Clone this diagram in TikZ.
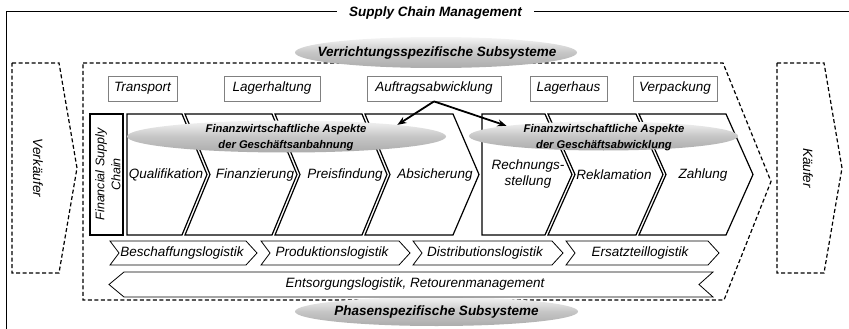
\documentclass[tikz,border=0pt]{standalone}
\usepackage{fontspec}
\setmainfont{Liberation Sans}
\usetikzlibrary{arrows.meta,shapes.geometric}

\begin{document}
\begin{tikzpicture}[x=1pt,y=-1pt,
	lbl/.style={font=\fontsize{13.5}{16.5}\selectfont\itshape},
	ttl/.style={font=\fontsize{13.5}{16}\selectfont\bfseries\itshape},
	asp/.style={font=\fontsize{11.2}{16}\selectfont\bfseries\itshape, align=center},
	taskbox/.style={draw=gray, line width=0.8pt, lbl, minimum height=25pt, inner sep=0pt},
	phase/.style={draw, line width=1.2pt, fill=white},
	logi/.style={draw, line width=0.8pt},
	party/.style={draw, line width=1.2pt, dash pattern=on 4pt off 2.5pt},
	bubble/.style={ellipse, inner sep=0pt, top color=gray!8, bottom color=gray!65, middle color=gray!45}]
	\useasboundingbox (0,0) rectangle (849,329);
	% rahmen
	\draw[line width=0.8pt] (6,329) -- (6,11) -- (849,11);
	\node[ttl, fill=white, inner xsep=12pt, inner ysep=1pt] (scm) at (435.5,13) {Supply Chain Management};
	% verkaeufer, kaeufer
	\draw[party] (12,63) -- (59,63) -- (77,168) -- (59,273) -- (12,273) -- cycle;
	\node[lbl, rotate=-90] (seller) at (38,168) {Verkäufer};
	\draw[party] (777,63) -- (824,63) -- (842,168) -- (824,273) -- (777,273) -- cycle;
	\node[lbl, rotate=-90] (buyer) at (808,168) {Käufer};
	\draw[party] (83,63) -- (723,63) -- (771,181.5) -- (724,300) -- (83,300) -- cycle;
	\node[bubble, minimum width=282pt, minimum height=31pt] (verricht) at (436,52.5) {};
	\node[ttl] (verrichttext) at (437,53) {Verrichtungsspezifische Subsysteme};
	\node[bubble, minimum width=283pt, minimum height=29pt] (phasen) at (436.5,311.5) {};
	\node[ttl] (phasentext) at (436.5,312.5) {Phasenspezifische Subsysteme};
	% verrichtungen
	\node[taskbox, minimum width=69pt] (transport) at (142.5,88.5) {Transport};
	\node[taskbox, minimum width=96pt] (lager) at (272,88.5) {Lagerhaltung};
	\node[taskbox, minimum width=134pt] (auftrag) at (434,88.5) {Auftragsabwicklung};
	\node[taskbox, minimum width=77pt] (lagerhaus) at (568.5,88.5) {Lagerhaus};
	\node[taskbox, minimum width=84pt] (verpackung) at (675,88.5) {Verpackung};
	% financial supply chain
	\draw[phase] (90,114) rectangle (123,235);
	\node[font=\fontsize{12.5}{16}\selectfont\itshape, rotate=90, align=center] (fsc) at (108,174.5) {Financial Supply\\Chain};
	\draw[phase] (127,114) -- (182,114) -- (207,174.5) -- (182,235) -- (127,235) -- cycle;
	\draw[phase] (185,114) -- (272,114) -- (297,174.5) -- (272,235) -- (185,235) -- (210,174.5) -- cycle;
	\draw[phase] (275,114) -- (362,114) -- (387,174.5) -- (362,235) -- (275,235) -- (300,174.5) -- cycle;
	\draw[phase] (365,114) -- (453,114) -- (479,174.5) -- (453,235) -- (365,235) -- (390,174.5) -- cycle;
	\draw[phase] (482,114) -- (545,114) -- (572,174.5) -- (545,235) -- (482,235) -- cycle;
	\draw[phase] (548,114) -- (636,114) -- (663,174.5) -- (636,235) -- (548,235) -- (575,174.5) -- cycle;
	\draw[phase] (639,114) -- (726,114) -- (753,174.5) -- (726,235) -- (639,235) -- (666,174.5) -- cycle;
	\node[lbl] (quali) at (166,175) {Qualifikation};
	\node[lbl] (finanz) at (255,175) {Finanzierung};
	\node[lbl] (preis) at (345,175) {Preisfindung};
	\node[lbl] (absich) at (435,175) {Absicherung};
	\node[lbl, align=center] (rechnung) at (528,174) {Rechnungs-\\stellung};
	\node[lbl] (reklam) at (614,175) {Reklamation};
	\node[lbl] (zahlung) at (703,175) {Zahlung};
	% logistik
	\draw[logi] (110,241) -- (246,241) -- (257,253) -- (246,265) -- (110,265) -- (119,253) -- cycle;
	\draw[logi] (261,241) -- (399,241) -- (410,253) -- (399,265) -- (261,265) -- (270,253) -- cycle;
	\draw[logi] (413,241) -- (552,241) -- (563,253) -- (552,265) -- (413,265) -- (422,253) -- cycle;
	\draw[logi] (566,241) -- (708,241) -- (719,253) -- (708,265) -- (566,265) -- (575,253) -- cycle;
	\draw[logi] (124,272) -- (713,272) -- (699,284.5) -- (713,297) -- (124,297) -- (109,284.5) -- cycle;
	\node[lbl] (beschaffung) at (182,253) {Beschaffungslogistik};
	\node[lbl] (produktion) at (332,253) {Produktionslogistik};
	\node[lbl] (distribution) at (485,253) {Distributionslogistik};
	\node[lbl] (ersatzteil) at (640,253) {Ersatzteillogistik};
	\node[lbl] (entsorgung) at (415,284.5) {Entsorgungslogistik, Retourenmanagement};
	% finanzwirtschaftliche aspekte
	\node[bubble, minimum width=319pt, minimum height=32pt] (anbahnung) at (286.5,136.5) {};
	\node[asp] (anbahnungtext) at (286,138) {Finanzwirtschaftliche Aspekte\\der Geschäftsanbahnung};
	\node[bubble, minimum width=269pt, minimum height=29pt] (abwicklung) at (603.5,136) {};
	\node[asp] (abwicklungtext) at (604,137.5) {Finanzwirtschaftliche Aspekte\\der Geschäftsabwicklung};
	\draw[line width=1.8pt, -{Stealth[length=9pt,width=7pt]}] (auftrag.south) -- (anbahnung.6);
	\draw[line width=1.8pt, -{Stealth[length=9pt,width=7pt]}] (auftrag.south) -- (abwicklung.174);
\end{tikzpicture}
\end{document}
